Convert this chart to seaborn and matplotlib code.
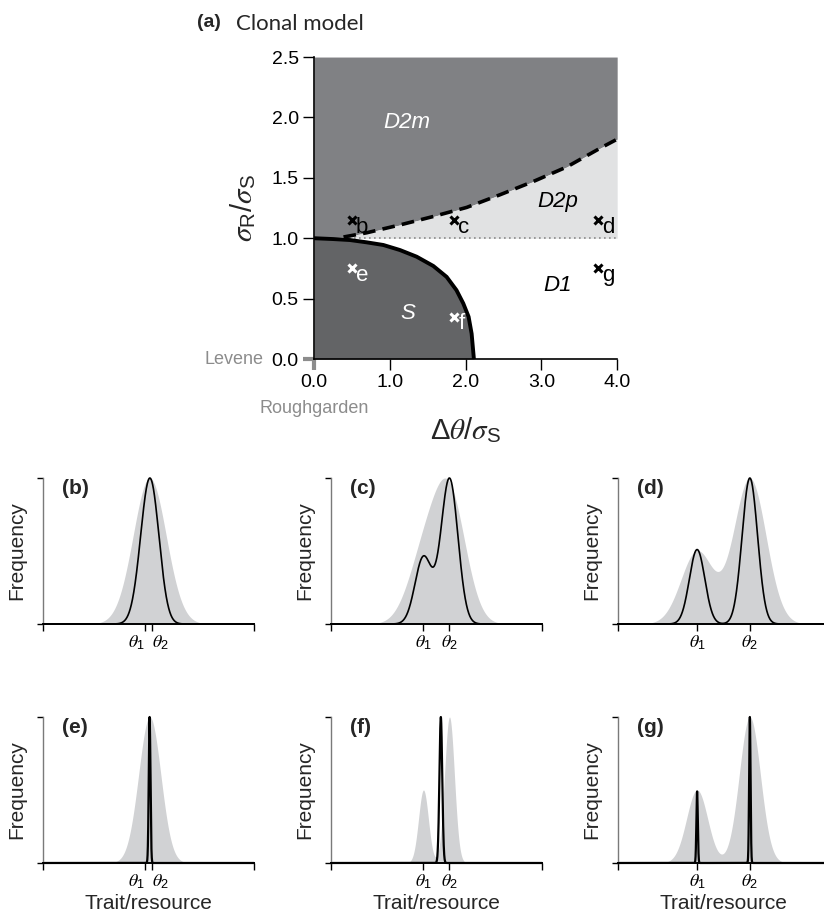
import numpy as np
import matplotlib
matplotlib.use('Agg')
import matplotlib.pyplot as plt
import seaborn as sns

# --- panel (a): boundaries ---
s_bound_x = [0.0, 0.255, 0.475, 0.695, 0.915, 1.135, 1.355, 1.575, 1.75, 1.88, 1.97, 2.04, 2.08, 2.11]
s_bound_y = [1.0, 0.993, 0.985, 0.966, 0.944, 0.902, 0.847, 0.770, 0.68, 0.57, 0.46, 0.35, 0.21, 0.0]
dash_x = [0.39, 0.695, 1.135, 1.575, 2.015, 2.455, 2.895, 3.335, 3.775, 4.0]
dash_y = [1.01, 1.045, 1.11, 1.18, 1.255, 1.36, 1.47, 1.59, 1.745, 1.82]

pt_labels = ['b', 'c', 'd', 'e', 'f', 'g']
pt_x = [0.5, 1.85, 3.75, 0.5, 1.85, 3.75]
pt_y = [1.15, 1.15, 1.15, 0.75, 0.35, 0.75]
pt_white = [False, False, False, True, True, False]

region_names = ['D2m', 'D2p', 'D1', 'S']
region_x = [1.22, 3.22, 3.22, 1.24]
region_y = [1.96, 1.30, 0.61, 0.38]

# --- panels (b)-(g): distribution shapes ---
# grey (resources): two peaks at theta1/theta2, width sigma_R, peak heights
grey_heights = [0.5, 1.0]
# black (consumers)
black_pos = [[-0.25, 0.25], [-0.925, 0.925], [-1.875, 1.875], [0.08], [0.31], [-1.875, 1.875]]
black_heights = [[0.5, 1.0], [0.46, 1.0], [0.51, 1.0], [1.0], [1.0], [0.49, 1.0]]
black_sd = [0.6, 0.6, 0.55, 0.06, 0.1, 0.05]

GREY_D2M = '#808184'
GREY_S = '#636466'
GREY_D2P = '#e1e2e3'
GREY_RES = '#d1d2d4'

sns.set_theme(style='ticks')
plt.rcParams['font.family'] = ['Liberation Sans', 'DejaVu Sans']
plt.rcParams['mathtext.fontset'] = 'custom'
plt.rcParams['mathtext.rm'] = 'Liberation Sans'
plt.rcParams['mathtext.sf'] = 'Liberation Sans'
plt.rcParams['mathtext.it'] = 'STIXGeneral:italic'
plt.rcParams['mathtext.bf'] = 'Liberation Sans:bold'

fig = plt.figure(figsize=(8.24, 9.17), dpi=100)

# ---------------- panel (a) ----------------
ax = fig.add_axes([0.381, 0.6085, 0.368, 0.3293])
up_x = [0.0] + dash_x
up_y = [1.0] + dash_y
ax.fill_between(up_x, up_y, 2.5, color=GREY_D2M, lw=0)
ax.fill_between(dash_x, 1.0, dash_y, color=GREY_D2P, lw=0)
ax.fill_between(s_bound_x, 0, s_bound_y, color=GREY_S, lw=0)
ax.plot([dash_x[0], 4.0], [1.0, 1.0], color='#8a8a8a', lw=1.2, ls=(0, (1, 2)))
sns.lineplot(x=dash_x, y=dash_y, ax=ax, color='black', lw=2.6, sort=False)
ax.lines[-1].set_dashes((3.5, 2))
sns.lineplot(x=s_bound_x, y=s_bound_y, ax=ax, color='black', lw=2.8, sort=False)

for lab, x, y, w in zip(pt_labels, pt_x, pt_y, pt_white):
    c = 'white' if w else 'black'
    ax.plot(x, y, marker='x', ms=5.5, mew=2.2, color=c, ls='none')
    ax.annotate(lab, (x, y), xytext=(3, -5), textcoords='offset points',
                ha='left', va='center', fontsize=16, color=c)

for name, x, y in zip(region_names, region_x, region_y):
    c = 'white' if name in ('D2m', 'S') else 'black'
    ax.text(x, y, name, fontsize=16, style='italic', color=c, ha='center', va='center')

ax.set_xlim(0, 4)
ax.set_ylim(0, 2.5)
ax.set_xticks([0, 1, 2, 3, 4])
ax.set_xticklabels(['0.0', '1.0', '2.0', '3.0', '4.0'])
ax.set_yticks([0, 0.5, 1.0, 1.5, 2.0, 2.5])
ax.set_yticklabels(['0.0', '0.5', '1.0', '1.5', '2.0', '2.5'])
ax.tick_params(direction='out', length=8, width=1, labelsize=14, colors='black', pad=3)
for side in ('top', 'right'):
    ax.spines[side].set_visible(False)
for side in ('left', 'bottom'):
    ax.spines[side].set_color('black')
    ax.spines[side].set_linewidth(1.2)
for t in (ax.xaxis.get_major_ticks()[0], ax.yaxis.get_major_ticks()[0]):
    t.tick1line.set_markeredgecolor('#8c8c8c')
    t.tick1line.set_markeredgewidth(3)
ax.set_ylabel(r'$\sigma_{\mathrm{R}}/\sigma_{\mathrm{S}}$', fontsize=21, labelpad=10)
ax.set_xlabel(r'$\Delta\theta/\sigma_{\mathrm{S}}$', fontsize=21, labelpad=17)
ax.text(-0.165, 0.0, 'Levene', transform=ax.get_yaxis_transform(), ha='right', va='center',
        fontsize=13, color='#8c8c8c', clip_on=False)
ax.text(0.0, -0.135, 'Roughgarden', transform=ax.get_xaxis_transform(), ha='center', va='top',
        fontsize=13, color='#8c8c8c', clip_on=False)
fig.text(0.239, 0.975, '(a)', fontsize=14, fontweight='bold', ha='left', va='center')
fig.text(0.287, 0.974, 'Clonal model', fontsize=16, ha='left', va='center', family='Lato')

# ---------------- panels (b)-(g) ----------------
xs = np.linspace(-7.5, 7.5, 3001)
lefts = [0.0522, 0.4017, 0.75]
bottoms = [0.3195, 0.0589]
for i in range(6):
    row, col = divmod(i, 3)
    axs = fig.add_axes([lefts[col], bottoms[row], 0.256, 0.1592])
    d = pt_x[i]
    sr = pt_y[i]
    th = [-d / 2, d / 2]
    grey = sum(h * np.exp(-(xs - m) ** 2 / (2 * sr ** 2)) for h, m in zip(grey_heights, th))
    grey = grey / grey.max()
    black = sum(h * np.exp(-(xs - m) ** 2 / (2 * black_sd[i] ** 2))
                for h, m in zip(black_heights[i], black_pos[i]))
    black = black / black.max()
    axs.fill_between(xs, 0, grey, color=GREY_RES, lw=0)
    sns.lineplot(x=xs, y=black, ax=axs, color='black', lw=1.2 if black_sd[i] > 0.2 else 1.6,
                 sort=False, clip_on=False)
    axs.set_xlim(-7.5, 7.5)
    axs.set_ylim(0, 1)
    axs.set_xticks([-7.5, th[0], th[1], 7.5])
    axs.set_xticklabels(['', r'$\theta_1$', r'$\theta_2$', ''])
    if d < 1:
        labs = axs.get_xticklabels()
        labs[1].set_ha('right')
        labs[2].set_ha('left')
    axs.set_yticks([0, 1])
    axs.set_yticklabels([])
    axs.tick_params(direction='out', length=5, width=1, labelsize=13, colors='black', pad=2)
    axs.tick_params(axis='y', length=4)
    for side in ('top', 'right'):
        axs.spines[side].set_visible(False)
    axs.spines['left'].set_color('#7a7a7a')
    axs.spines['left'].set_linewidth(1.0)
    axs.spines['bottom'].set_color('black')
    axs.spines['bottom'].set_linewidth(1.4)
    axs.set_ylabel('Frequency', fontsize=15, labelpad=6)
    if row == 1:
        axs.set_xlabel('Trait/resource', fontsize=15, labelpad=2)
    axs.text(0.09, 0.93, '(' + pt_labels[i] + ')', transform=axs.transAxes, fontsize=15,
             fontweight='bold', ha='left', va='center')

fig.savefig('out.png', dpi=100)
